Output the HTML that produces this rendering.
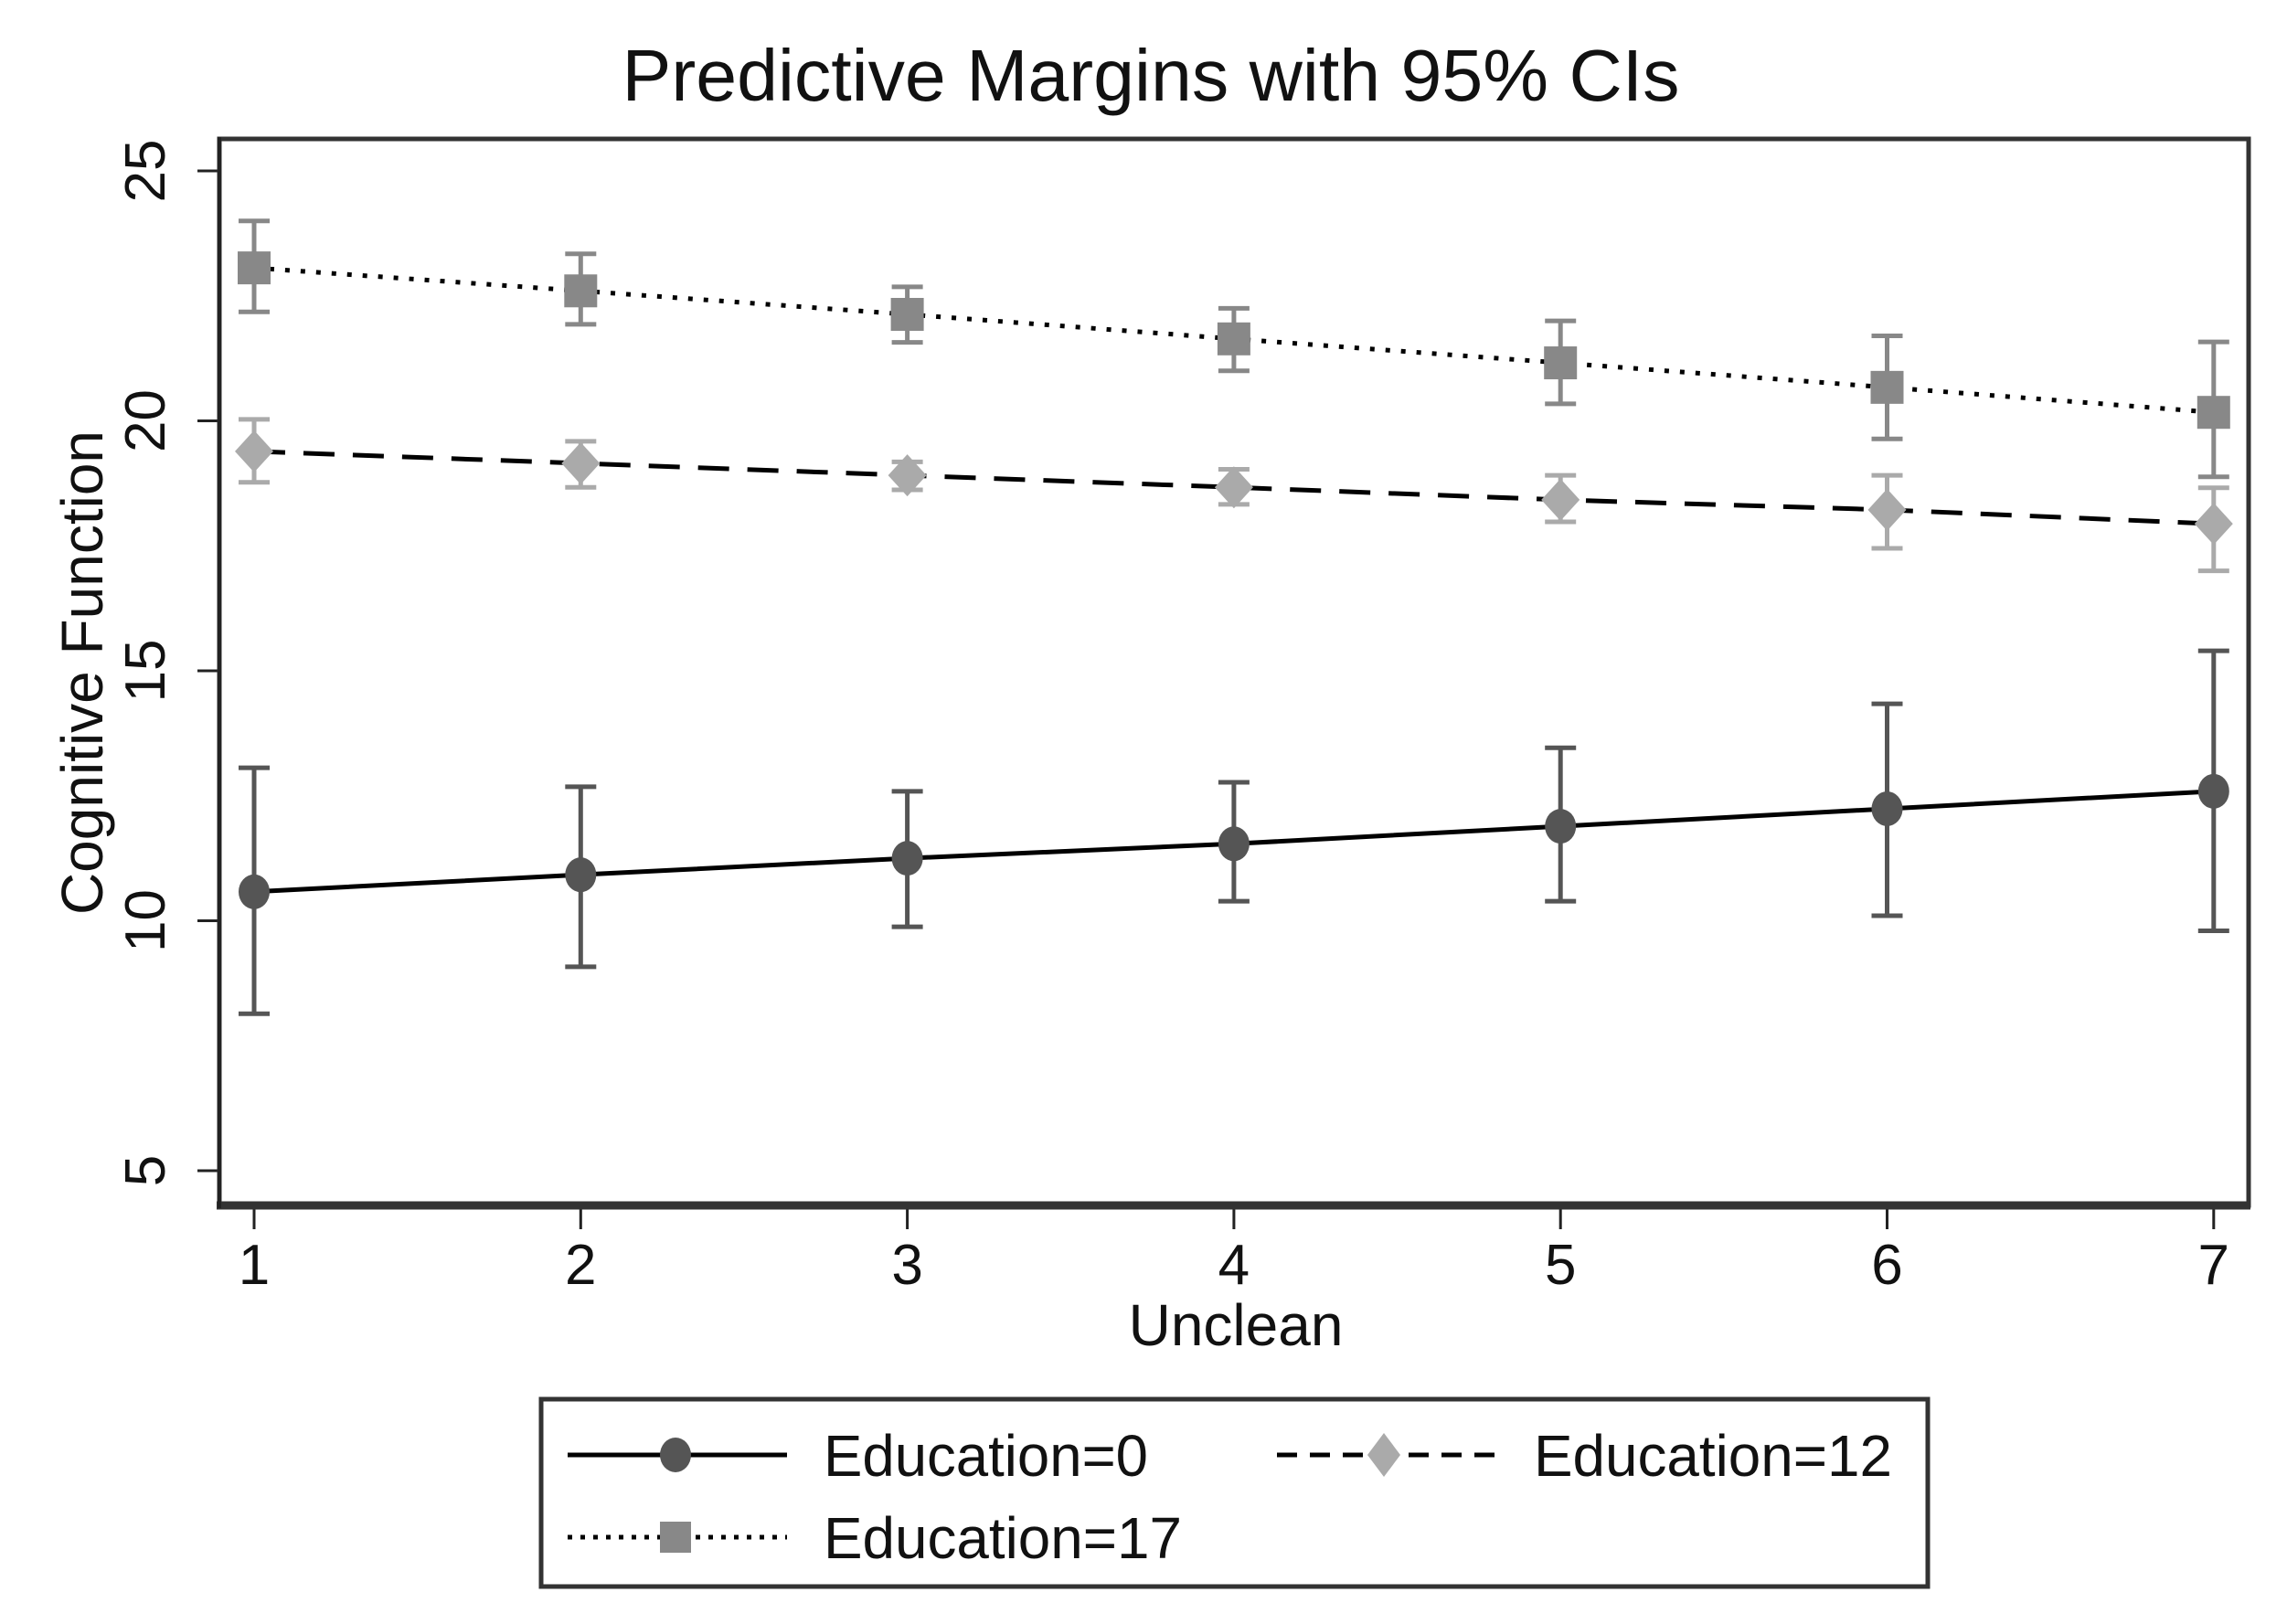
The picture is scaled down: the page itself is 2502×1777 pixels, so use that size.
<!DOCTYPE html>
<html><head><meta charset="utf-8"><style>html,body{margin:0;padding:0;background:#fff}svg{display:block}text{font-family:"Liberation Sans",sans-serif;fill:#111}</style></head>
<body>
<svg id="chart" width="2502" height="1777" viewBox="0 0 2502 1777" xmlns="http://www.w3.org/2000/svg">
<text x="1259" y="110" font-size="80" text-anchor="middle" textLength="1157" lengthAdjust="spacingAndGlyphs">Predictive Margins with 95% CIs</text>
<g id="axes"></g>
<g id="series"></g>
<rect x="240" y="152" width="2220" height="1167" fill="none" stroke="#333" stroke-width="5"/>
<line x1="237" y1="1319" x2="2462" y2="1319" stroke="#333" stroke-width="9"/>
<line x1="240" y1="150" x2="240" y2="1322" stroke="#222" stroke-width="4"/>
<text x="1352" y="1472" font-size="64" text-anchor="middle">Unclean</text>
<text x="0" y="0" font-size="64" text-anchor="middle" transform="translate(112,736) rotate(-90)">Cognitive Function</text>
<g>
<rect x="592" y="1531" width="1517" height="205" fill="#fff" stroke="#333" stroke-width="5"/>
<g>
<line x1="621" y1="1592" x2="861" y2="1592" stroke="#000" stroke-width="5"/>
<ellipse cx="739" cy="1592" rx="17" ry="19" fill="#555"/>
<text x="901" y="1615" font-size="64" textLength="355" lengthAdjust="spacingAndGlyphs">Education=0</text>
</g>
<g>
<line x1="1397" y1="1592" x2="1640" y2="1592" stroke="#000" stroke-width="5" stroke-dasharray="22,14"/>
<polygon points="1514,1568 1532,1592 1514,1616 1496,1592" fill="#aaa"/>
<text x="1678" y="1615" font-size="64" textLength="392" lengthAdjust="spacingAndGlyphs">Education=12</text>
</g>
<g>
<line x1="621" y1="1682" x2="861" y2="1682" stroke="#000" stroke-width="5" stroke-dasharray="5,9"/>
<rect x="722" y="1665" width="34" height="34" fill="#888"/>
<text x="901" y="1705" font-size="64" textLength="392" lengthAdjust="spacingAndGlyphs">Education=17</text>
</g>
</g>
</svg>
<script>
const xCats = [1,2,3,4,5,6,7];
const yTicks = [5,10,15,20,25];
const edu0 = [10.58,10.92,11.25,11.54,11.89,12.24,12.59];
const edu0Lo = [8.14,9.08,9.88,10.39,10.39,10.10,9.80];
const edu0Hi = [13.06,12.68,12.59,12.77,13.46,14.34,15.40];
const edu12 = [19.39,19.15,18.91,18.67,18.42,18.22,17.94];
const edu12Lo = [18.77,18.67,18.62,18.33,17.98,17.45,17.00];
const edu12Hi = [20.03,19.59,19.18,19.03,18.91,18.91,18.66];
const edu17 = [23.06,22.60,22.13,21.64,21.16,20.67,20.17];
const edu17Lo = [22.18,21.93,21.57,21.00,20.34,19.64,18.88];
const edu17Hi = [24.00,23.34,22.68,22.25,22.00,21.70,21.58];

const NS='http://www.w3.org/2000/svg';
const xs = v => 278 + (v-1)*357.3;
const ys = v => 187 + (25-v)*54.7;
function mk(tag, attrs, parent){const e=document.createElementNS(NS,tag);for(const k in attrs)e.setAttribute(k,attrs[k]);parent.appendChild(e);return e;}
const axes=document.getElementById('axes'), ser=document.getElementById('series');
xCats.forEach(c=>{
  const t=mk('line',{x1:xs(c),y1:1322,x2:xs(c),y2:1345,stroke:'#222','stroke-width':3},axes);
  
  
  const l=mk('text',{x:xs(c),y:1405,'font-size':62,'text-anchor':'middle'},axes);
  
  
  l.textContent=c;
});
yTicks.forEach(v=>{
  const t=mk('line',{x1:216,y1:ys(v),x2:240,y2:ys(v),stroke:'#222','stroke-width':3},axes);
  
  
  const l=mk('text',{x:0,y:0,'font-size':62,'text-anchor':'middle',transform:'translate(180,'+ys(v)+') rotate(-90)'},axes);
  
  
  l.textContent=v;
});
function series(name, vals, lo, hi, color, dash, marker){
  const g=mk('g',{},ser);
  
  
  const pts=vals.map((v,i)=>xs(xCats[i])+','+ys(v)).join(' ');
  const pl=mk('polyline',{points:pts,fill:'none',stroke:'#000','stroke-width':5,'stroke-dasharray':dash},g);
  
  
  vals.forEach((v,i)=>{
    const x=xs(xCats[i]);
    const ci=mk('path',{d:'M'+x+','+ys(lo[i])+'V'+ys(hi[i])+'M'+(x-17)+','+ys(lo[i])+'h34M'+(x-17)+','+ys(hi[i])+'h34',stroke:color,'stroke-width':5,fill:'none'},g);
    
    
    let m; const y=ys(v);
    if(marker==='circle') m=mk('ellipse',{cx:x,cy:y,rx:17,ry:19,fill:color},g);
    else if(marker==='diamond') m=mk('polygon',{points:x+','+(y-23)+' '+(x+21)+','+y+' '+x+','+(y+23)+' '+(x-21)+','+y,fill:color},g);
    else m=mk('rect',{x:x-18,y:y-18,width:36,height:36,fill:color},g);
    
    
  });
}
series('edu0',edu0,edu0Lo,edu0Hi,'#555','none','circle');
series('edu12',edu12,edu12Lo,edu12Hi,'#aaa','34,20','diamond');
series('edu17',edu17,edu17Lo,edu17Hi,'#888','5,12','square');
</script>
</body></html>
